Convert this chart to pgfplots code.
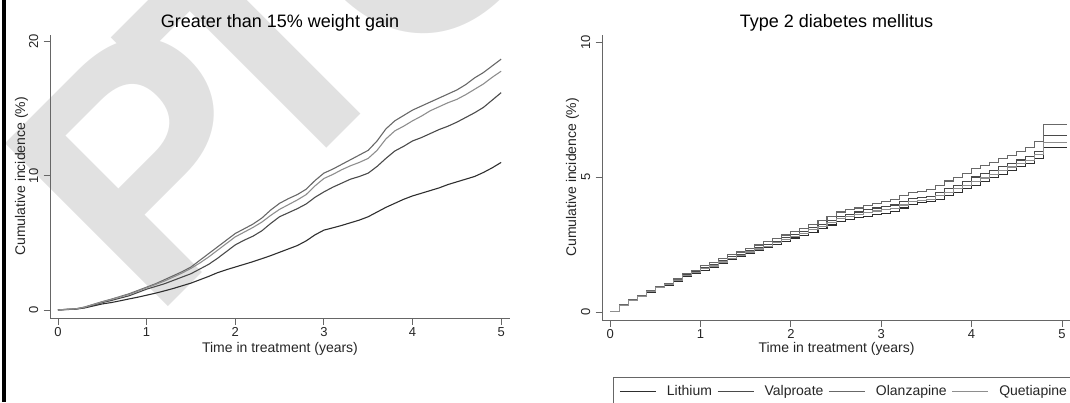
\documentclass[border=0pt]{standalone}
\usepackage{fontspec}
\setmainfont{Liberation Sans}
\usepackage{pgfplots}
\usepackage{pgfplotstable}
\pgfplotsset{compat=1.18}

\definecolor{cLi}{HTML}{2E2E2E}
\definecolor{cVa}{HTML}{4A4A4A}
\definecolor{cOl}{HTML}{686868}
\definecolor{cQu}{HTML}{8E8E8E}
\definecolor{wmark}{HTML}{E1E1E1}

% >15% weight gain, cumulative incidence (%)
\pgfplotstableread{
t    li    va    ol    qu
0.0  0     0     0     0
0.1  0.03  0.04  0.05  0.05
0.2  0.06  0.07  0.08  0.08
0.3  0.15  0.18  0.22  0.20
0.4  0.30  0.36  0.42  0.40
0.5  0.45  0.55  0.62  0.60
0.6  0.55  0.70  0.80  0.78
0.7  0.68  0.88  1.00  0.97
0.8  0.82  1.05  1.20  1.15
0.9  0.95  1.30  1.45  1.40
1.0  1.10  1.55  1.70  1.65
1.1  1.25  1.75  1.95  1.90
1.2  1.42  1.95  2.25  2.15
1.3  1.60  2.20  2.55  2.45
1.4  1.80  2.45  2.85  2.75
1.5  2.00  2.70  3.20  3.10
1.6  2.25  3.05  3.70  3.50
1.7  2.50  3.40  4.20  3.95
1.8  2.78  3.85  4.70  4.45
1.9  3.00  4.35  5.20  4.95
2.0  3.20  4.85  5.70  5.45
2.1  3.40  5.20  6.05  5.80
2.2  3.60  5.50  6.40  6.15
2.3  3.82  5.90  6.85  6.55
2.4  4.05  6.45  7.45  7.05
2.5  4.30  6.95  7.95  7.50
2.6  4.55  7.25  8.30  7.85
2.7  4.80  7.55  8.60  8.20
2.8  5.15  7.90  9.00  8.60
2.9  5.60  8.40  9.65  9.25
3.0  5.95  8.80  10.20 9.80
3.1  6.12  9.15  10.50 10.10
3.2  6.30  9.45  10.85 10.45
3.3  6.50  9.75  11.20 10.75
3.4  6.70  9.95  11.55 11.00
3.5  6.95  10.20 11.90 11.30
3.6  7.30  10.70 12.60 11.90
3.7  7.65  11.30 13.50 12.75
3.8  7.95  11.85 14.10 13.35
3.9  8.25  12.20 14.50 13.70
4.0  8.50  12.60 14.90 14.10
4.1  8.70  12.85 15.20 14.45
4.2  8.90  13.15 15.50 14.85
4.3  9.10  13.45 15.80 15.15
4.4  9.35  13.70 16.10 15.45
4.5  9.55  14.00 16.40 15.70
4.6  9.75  14.35 16.80 16.05
4.7  9.95  14.70 17.30 16.45
4.8  10.25 15.10 17.70 16.85
4.9  10.60 15.65 18.20 17.35
5.0  11.00 16.20 18.70 17.80
}\weight

% type 2 diabetes mellitus, cumulative incidence (%)
\pgfplotstableread{
t    li    va    ol    qu
0.0  0     0     0     0
0.1  0.24  0.26  0.27  0.25
0.2  0.42  0.44  0.45  0.43
0.3  0.56  0.58  0.60  0.57
0.4  0.73  0.76  0.78  0.75
0.5  0.90  0.93  0.95  0.92
0.6  0.98  1.02  1.05  1.00
0.7  1.12  1.18  1.22  1.15
0.8  1.32  1.38  1.42  1.35
0.9  1.43  1.50  1.55  1.47
1.0  1.55  1.65  1.72  1.60
1.1  1.65  1.75  1.82  1.70
1.2  1.80  1.90  1.98  1.85
1.3  1.94  2.04  2.12  1.99
1.4  2.04  2.14  2.22  2.09
1.5  2.17  2.27  2.35  2.22
1.6  2.27  2.38  2.48  2.33
1.7  2.38  2.50  2.60  2.44
1.8  2.50  2.62  2.72  2.56
1.9  2.62  2.75  2.85  2.68
2.0  2.74  2.87  2.97  2.80
2.1  2.83  2.98  3.10  2.90
2.2  2.95  3.12  3.25  3.04
2.3  3.08  3.25  3.38  3.17
2.4  3.22  3.40  3.55  3.32
2.5  3.36  3.55  3.70  3.47
2.6  3.42  3.62  3.78  3.53
2.7  3.49  3.70  3.85  3.60
2.8  3.55  3.78  3.95  3.67
2.9  3.62  3.85  4.03  3.74
3.0  3.66  3.90  4.08  3.78
3.1  3.72  3.96  4.15  3.84
3.2  3.85  4.08  4.30  3.96
3.3  3.99  4.20  4.42  4.10
3.4  4.04  4.24  4.47  4.14
3.5  4.08  4.28  4.52  4.18
3.6  4.18  4.42  4.68  4.30
3.7  4.32  4.58  4.85  4.44
3.8  4.44  4.70  4.98  4.56
3.9  4.56  4.84  5.12  4.68
4.0  4.70  5.00  5.30  4.83
4.1  4.83  5.12  5.42  4.96
4.2  4.97  5.25  5.55  5.10
4.3  5.10  5.38  5.68  5.24
4.4  5.24  5.50  5.80  5.37
4.5  5.38  5.63  5.94  5.50
4.6  5.50  5.75  6.08  5.62
4.7  5.70  5.95  6.30  5.82
4.8  6.10  6.52  6.93  6.29
4.9  6.10  6.52  6.93  6.29
5.0  6.10  6.52  6.93  6.29
5.06 6.10  6.52  6.93  6.29
}\diab

\pgfplotsset{
  stata/.style={
    scale only axis,
    axis lines*=left,
    axis line style={black!60, line width=0.8pt, -},
    tick style={black!60, line width=0.8pt},
    tick align=outside,
    major tick length=6.5pt,
    xmin=-0.09, xmax=5.1,
    xtick={0,1,2,3,4,5},
    /pgf/number format/assume math mode=true,
    ticklabel style={font=\fontsize{13}{15}\selectfont, text=black!85},
    yticklabel style={rotate=90, anchor=base},
    xticklabel style={anchor=base},
    xticklabel shift=11.5pt,
    yticklabel shift=5.5pt,
    label style={font=\fontsize{14}{16}\selectfont, text=black!85},
    title style={font=\fontsize{18}{20}\selectfont, at={(axis description cs:0.5,1)}, anchor=base, yshift=1pt},
    xlabel={Time in treatment (years)},
    ylabel={Cumulative incidence (\%)},
    every axis plot/.append style={line width=1.1pt},
  },
}

\begin{document}
\begin{tikzpicture}
\useasboundingbox (0pt,0pt) rectangle (1070pt,402pt);

% watermark
\begin{scope}[every node/.style={rotate=45, anchor=base west, inner sep=0pt, text=wmark, font=\bfseries\fontsize{335}{335}\selectfont}]
\node at (152pt,79pt) {P};
\node at (271pt,198pt) {T};
\node at (410pt,316pt) {O};
\end{scope}

\fill[black] (2pt,0pt) rectangle (5.5pt,402pt);

\begin{axis}[stata,
  at={(50pt,84pt)}, anchor=south west,
  width=460pt, height=283pt,
  ymin=-0.6, ymax=20.5, ytick={0,10,20},
  title={Greater than 15\% weight gain},
  xlabel style={at={(axis description cs:0.5,0)}, anchor=base, yshift=-34pt},
  ylabel style={at={(axis description cs:-0.0543,0.5)}, anchor=base},
]
\addplot[cLi] table[x=t, y=li] {\weight};
\addplot[cVa] table[x=t, y=va] {\weight};
\addplot[cOl] table[x=t, y=ol] {\weight};
\addplot[cQu] table[x=t, y=qu] {\weight};
\end{axis}

\begin{axis}[stata,
  at={(602pt,82pt)}, anchor=south west,
  width=469pt, height=285pt,
  ymin=-0.3, ymax=10.26, ytick={0,5,10},
  title={Type 2 diabetes mellitus},
  xlabel style={at={(axis description cs:0.5,0)}, anchor=base, yshift=-32pt},
  ylabel style={at={(axis description cs:-0.0554,0.5)}, anchor=base},
  legend columns=4,
  legend style={at={(axis description cs:0.0235,-0.2)}, anchor=north west,
    draw=black!60, line width=0.8pt, fill=white, inner xsep=6pt, inner ysep=3pt,
    font=\fontsize{14}{16}\selectfont, text=black!85,
    nodes={inner xsep=5pt, inner ysep=5pt},
    /tikz/every odd column/.append style={column sep=5.5pt}},
  legend image code/.code={\draw[#1, line width=1pt] (0pt,0pt) -- (36pt,0pt);},
]
\addplot[cLi, const plot] table[x=t, y=li] {\diab};
\addlegendentry{Lithium}
\addplot[cVa, const plot] table[x=t, y=va] {\diab};
\addlegendentry{Valproate}
\addplot[cOl, const plot] table[x=t, y=ol] {\diab};
\addlegendentry{Olanzapine}
\addplot[cQu, const plot] table[x=t, y=qu] {\diab};
\addlegendentry{Quetiapine}
\end{axis}
\end{tikzpicture}
\end{document}
